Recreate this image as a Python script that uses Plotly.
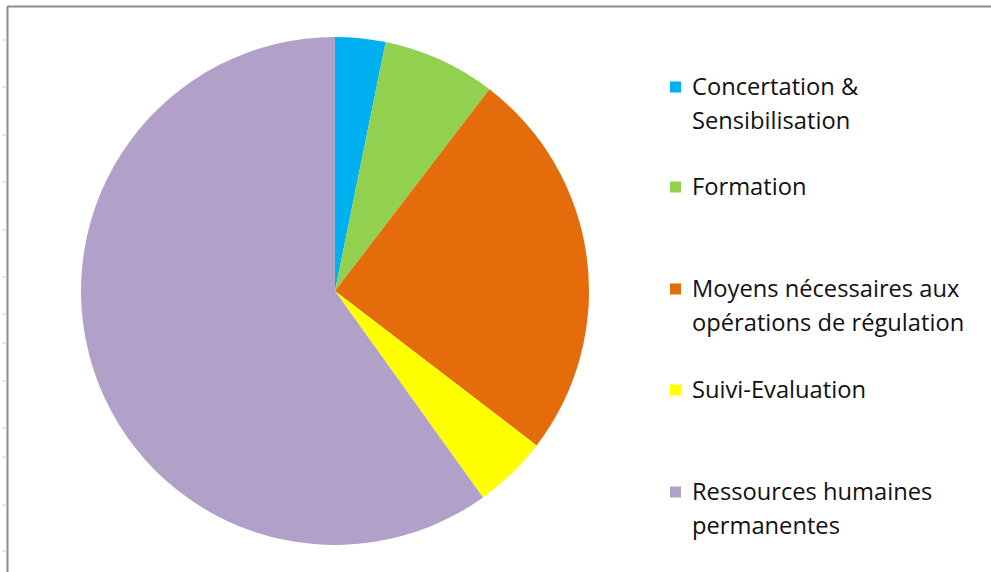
import plotly.graph_objects as go

labels = ["Concertation &<br>Sensibilisation", "Formation",
          "Moyens nécessaires aux<br>opérations de régulation",
          "Suivi-Evaluation", "Ressources humaines<br>permanentes"]
values = [3.2, 7.2, 25.0, 4.7, 59.9]
colors = ["#00B0F0", "#92D050", "#E46C0A", "#FFFF00", "#B1A0C7"]

W, H = 991, 572
fig = go.Figure()
fig.add_trace(go.Pie(
    labels=labels, values=values, sort=False, direction="clockwise", rotation=0,
    marker=dict(colors=colors, line=dict(width=0)), textinfo="none",
    hoverinfo="label+percent", showlegend=False,
    domain=dict(x=[81 / W, 589 / W], y=[1 - 545 / H, 1 - 37 / H]),
))

shapes = []
annotations = []
# frame lines
shapes.append(dict(type="line", xref="paper", yref="paper", x0=7.5 / W, x1=7.5 / W,
                   y0=0, y1=1 - 6 / H, line=dict(color="#8C8C8C", width=2)))
shapes.append(dict(type="line", xref="paper", yref="paper", x0=7.5 / W, x1=1,
                   y0=1 - 6.5 / H, y1=1 - 6.5 / H, line=dict(color="#8C8C8C", width=2)))
for ty in [40, 87, 135, 182, 230, 277, 314, 343, 381, 428, 457, 505, 551]:
    shapes.append(dict(type="line", xref="paper", yref="paper", x0=2 / W, x1=7 / W,
                       y0=1 - ty / H, y1=1 - ty / H, line=dict(color="#D0D0D0", width=1)))

# legend
item_top = [87, 187, 289, 390, 492]
line_h = 33.5
for lab, col, y0 in zip(labels, colors, item_top):
    shapes.append(dict(type="rect", xref="paper", yref="paper",
                       x0=670 / W, x1=681 / W, y0=1 - (y0 + 5.5) / H, y1=1 - (y0 - 5.5) / H,
                       fillcolor=col, line=dict(width=0)))
    for i, part in enumerate(lab.split("<br>")):
        annotations.append(dict(text=part, xref="paper", yref="paper",
                                x=690 / W, y=1 - (y0 - 1 + i * line_h) / H,
                                xanchor="left", yanchor="middle", showarrow=False,
                                font=dict(family="Open Sans", size=23.7, color="#111111")))

fig.update_layout(width=W, height=H, margin=dict(l=0, r=0, t=0, b=0),
                  paper_bgcolor="white", plot_bgcolor="white",
                  shapes=shapes, annotations=annotations)
fig.write_html("out.html")
